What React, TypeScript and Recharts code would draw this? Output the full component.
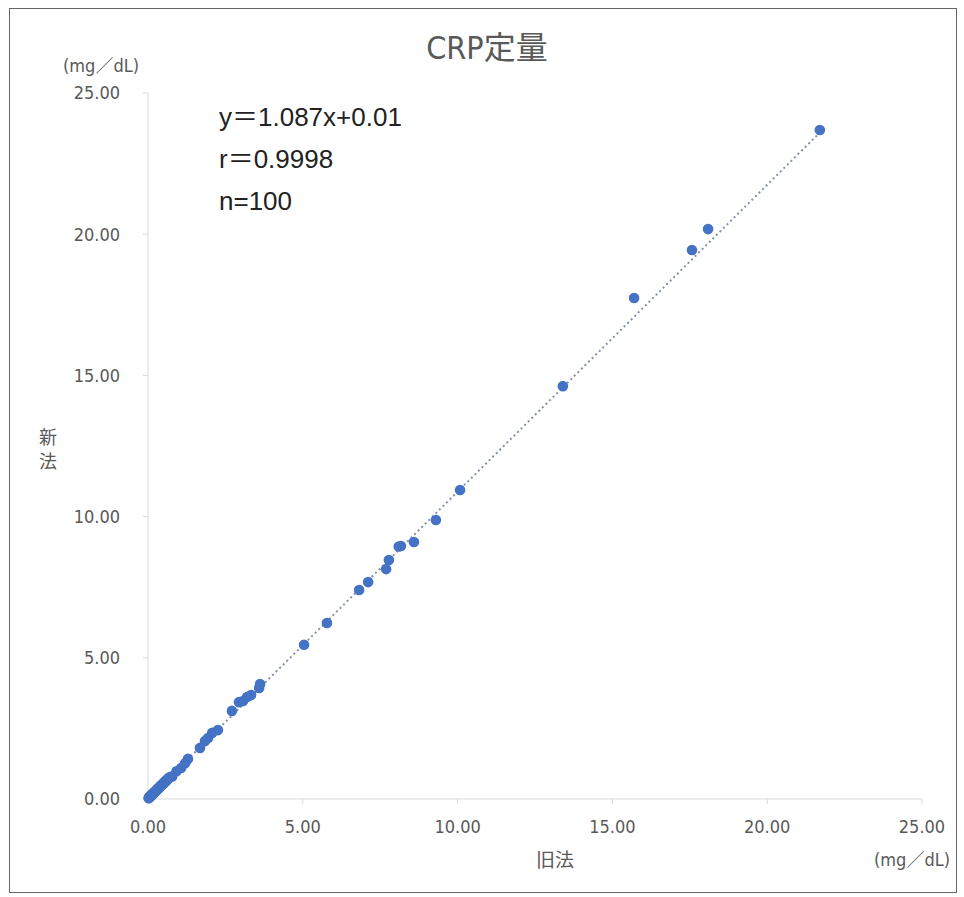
import { ReferenceLine, Scatter, ScatterChart, XAxis, YAxis } from "recharts";

// 旧法 (x) / 新法 (y), mg/dL
const oldMethod = [
  21.7, 18.09, 17.57, 15.7, 13.4, 10.08, 9.3, 8.59, 8.17, 8.1, 7.78, 7.69, 7.11, 6.82, 5.78, 5.04,
  3.62, 3.59, 3.33, 3.2, 3.07, 2.94, 2.71, 2.26, 2.07, 1.94, 1.84, 1.68, 1.29, 1.2, 1.07, 0.92, 0.78,
  0.02, 0.03, 0.04, 0.04, 0.05, 0.06, 0.06, 0.07, 0.08, 0.09,
  0.1, 0.1, 0.11, 0.12, 0.13, 0.14, 0.15, 0.15, 0.16, 0.17,
  0.18, 0.19, 0.2, 0.21, 0.22, 0.23, 0.24, 0.25, 0.26, 0.27,
  0.28, 0.29, 0.3, 0.31, 0.32, 0.33, 0.34, 0.35, 0.36, 0.38,
  0.39, 0.4, 0.41, 0.42, 0.44, 0.45, 0.46, 0.47, 0.48, 0.5,
  0.51, 0.52, 0.54, 0.55, 0.56, 0.58, 0.59, 0.6, 0.61, 0.62,
  0.63, 0.64, 0.65, 0.66, 0.68, 0.7,
];

const newMethod = [
  23.69, 20.18, 19.44, 17.74, 14.62, 10.94, 9.88, 9.1, 8.96, 8.94, 8.46, 8.14, 7.68, 7.4, 6.23, 5.46,
  4.07, 3.93, 3.68, 3.61, 3.47, 3.43, 3.12, 2.44, 2.34, 2.16, 2.05, 1.81, 1.42, 1.27, 1.1, 0.98, 0.8,
  0.03, 0.04, 0.05, 0.06, 0.06, 0.07, 0.08, 0.09, 0.1, 0.11,
  0.12, 0.11, 0.13, 0.14, 0.15, 0.16, 0.17, 0.18, 0.18, 0.19,
  0.2, 0.22, 0.23, 0.24, 0.25, 0.26, 0.27, 0.28, 0.29, 0.3,
  0.31, 0.33, 0.34, 0.35, 0.36, 0.37, 0.38, 0.39, 0.4, 0.42,
  0.43, 0.45, 0.46, 0.47, 0.49, 0.5, 0.51, 0.52, 0.53, 0.55,
  0.56, 0.58, 0.6, 0.61, 0.62, 0.64, 0.65, 0.66, 0.67, 0.68,
  0.7, 0.71, 0.72, 0.73, 0.75, 0.77,
];

const ticks = [0, 5, 10, 15, 20, 25];
const statLines = ["y＝1.087x+0.01", "r＝0.9998", "n=100"];
const SLOPE = 1.087;
const INTERCEPT = 0.01;

const NARROW = "'Liberation Sans Narrow', 'DejaVu Sans Condensed', 'Noto Sans CJK JP', sans-serif";
const TEXT = "#595959";

const Dot = (props: any) => <circle cx={props.cx} cy={props.cy} r={5.3} fill="#4472c4" />;

export default function App() {
  const points = oldMethod.map((x, i) => ({ x, y: newMethod[i] }));
  const xMax = Math.max(...oldMethod);

  const tickStyle = { fontFamily: NARROW, fontSize: 18, fill: TEXT };

  return (
    <div style={{ position: "relative", width: 964, height: 897, background: "#fff" }}>
      <style>{"body{margin:0}"}</style>
      <div
        style={{
          position: "absolute",
          left: 9,
          top: 8,
          width: 946,
          height: 883,
          border: "1.5px solid #666",
        }}
      />
      <div style={{ position: "absolute", left: 0, top: 0 }}>
        <ScatterChart width={964} height={897} margin={{ top: 93, right: 42, bottom: 58, left: 88 }}>
          <XAxis
            type="number"
            dataKey="x"
            domain={[0, 25]}
            ticks={ticks}
            tickFormatter={(v: number) => v.toFixed(2)}
            height={40}
            stroke="#d9d9d9"
            tickSize={5}
            tickMargin={16}
            tick={tickStyle}
          />
          <YAxis
            type="number"
            dataKey="y"
            domain={[0, 25]}
            ticks={ticks}
            tickFormatter={(v: number) => v.toFixed(2)}
            width={60}
            stroke="#d9d9d9"
            tickSize={5}
            tickMargin={23}
            tick={tickStyle}
          />
          <ReferenceLine
            segment={[
              { x: 0, y: INTERCEPT },
              { x: xMax, y: SLOPE * xMax + INTERCEPT },
            ]}
            stroke="#8592aa"
            strokeWidth={2}
            strokeDasharray="2 3"
          />
          <Scatter data={points} fill="#4472c4" isAnimationActive={false} shape={Dot} />
        </ScatterChart>
      </div>

      <div
        style={{
          position: "absolute",
          left: 0,
          width: 974,
          top: 22,
          textAlign: "center",
          fontFamily: NARROW,
          fontSize: 32,
          color: TEXT,
        }}
      >
        CRP定量
      </div>

      <div style={{ position: "absolute", left: 63, top: 51, fontFamily: NARROW, fontSize: 18, color: TEXT }}>
        (mg／dL)
      </div>
      <div style={{ position: "absolute", left: 874, top: 845, fontFamily: NARROW, fontSize: 18, color: TEXT }}>
        (mg／dL)
      </div>
      <div style={{ position: "absolute", left: 536, top: 845, fontFamily: NARROW, fontSize: 19, color: TEXT }}>
        旧法
      </div>
      <div
        style={{
          position: "absolute",
          left: 39,
          top: 426,
          fontFamily: "'Noto Sans CJK JP', sans-serif",
          fontSize: 18,
          lineHeight: "20px",
          color: TEXT,
        }}
      >
        新
      </div>
      <div
        style={{
          position: "absolute",
          left: 39,
          top: 450,
          fontFamily: "'Noto Sans CJK JP', sans-serif",
          fontSize: 18,
          lineHeight: "20px",
          color: TEXT,
        }}
      >
        法
      </div>

      <div
        style={{
          position: "absolute",
          left: 219,
          top: 96,
          fontFamily: "'Liberation Sans', Arial, 'Noto Sans CJK JP', sans-serif",
          fontSize: 26,
          lineHeight: "42px",
          color: "#222",
        }}
      >
        {statLines.map((s) => (
          <div key={s}>{s}</div>
        ))}
      </div>
    </div>
  );
}
